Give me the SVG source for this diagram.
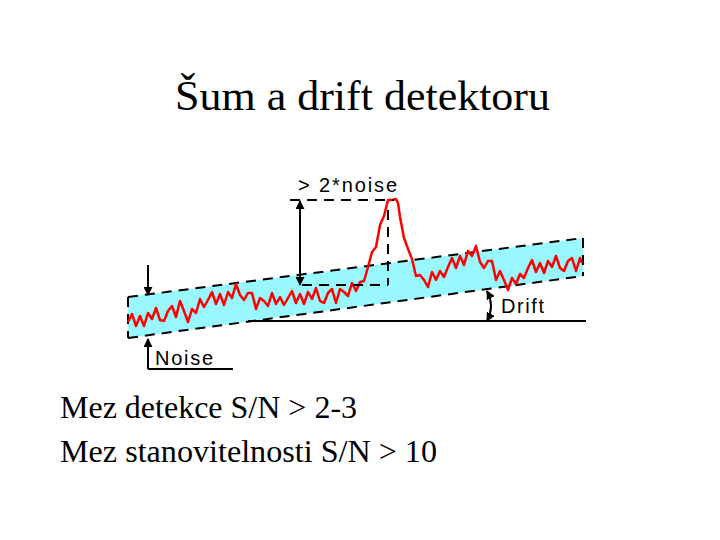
<svg xmlns="http://www.w3.org/2000/svg" width="720" height="540" viewBox="0 0 720 540">
<defs>
<style>
.title{font-family:"Liberation Serif","Times New Roman",serif;fill:#000}
.lab{font-family:"Liberation Sans",Arial,sans-serif;font-size:20px;fill:#000}
.dash{stroke:#000;stroke-width:2;stroke-dasharray:10,7;fill:none}
.solid{stroke:#000;stroke-width:2;fill:none}
</style>
<marker id="ah" viewBox="0 0 10 10" refX="9" refY="5" markerWidth="9" markerHeight="9" orient="auto-start-reverse" markerUnits="userSpaceOnUse">
<path d="M0,0 L10,5 L0,10 Z" fill="#000"/>
</marker>
</defs>
<rect width="720" height="540" fill="#fff"/>
<text class="title" x="175" y="110" font-size="43" textLength="375" lengthAdjust="spacingAndGlyphs">Šum a drift detektoru</text>
<g id="band">
<polygon points="128,297 583,238 583,276 128,338" fill="#99f8ff"/>
<line class="dash" x1="128" y1="297" x2="583" y2="238"/>
<line class="dash" x1="128" y1="338" x2="583" y2="276"/>
<line class="dash" x1="128" y1="297" x2="128" y2="338"/>
<line class="dash" x1="583" y1="238" x2="583" y2="276"/>
</g>
<g id="signal">
<polyline fill="none" stroke="#ff0000" stroke-width="2.5" stroke-linejoin="round" points="128,322 132,314 136,326 140,316 144,326 148,313 152,319 156,308 160,320 164,321 168,311 172,306 176,317 180,301 184,311 188,322 192,309 196,313 200,299 204,307 208,300 212,292 216,304 220,294 224,305 228,292 232,298 236,284 240,295 244,300 248,293 252,293 256,309 260,298 264,301 268,306 272,293 276,304 280,297 284,305 288,298 292,291 296,303 300,294 304,304 308,292 312,299 316,288 320,301 324,303 328,293 332,289 336,303 340,289 344,292 348,296 352,283 356,291 360,282 364,281 368,267 372,252 376,247 380,225 384,216 388,200 392,200 396,199 398,203 400,217 404,238 408,249 412,259 416,276 420,275 424,280 428,287 432,272 436,280 440,271 444,277 448,267 452,258 456,268 460,256 464,265 468,251 472,256 476,246 480,262 484,268 488,261 492,261 496,280 500,271 504,280 508,290 512,278 516,284 520,274 524,278 528,268 532,260 536,272 540,263 544,273 548,261 552,267 556,256 560,268 564,271 568,261 572,258 576,271 580,258 582,263"/>
</g>
<g id="connectors">
<line class="solid" x1="248" y1="321" x2="586" y2="321"/>
<line class="solid" x1="148" y1="265" x2="148" y2="295" stroke-width="2.5" marker-end="url(#ah)"/>
<line class="solid" x1="148" y1="369" x2="148" y2="339" stroke-width="2.5" marker-end="url(#ah)"/>
<line class="solid" x1="148" y1="369" x2="233" y2="369" stroke-width="2.5"/>
<line class="dash" x1="290" y1="200" x2="394" y2="200"/>
<line class="solid" x1="300" y1="201" x2="300" y2="285" stroke-width="3" marker-start="url(#ah)" marker-end="url(#ah)"/>
<line class="dash" x1="302" y1="285" x2="388" y2="285" stroke-width="3"/>
<line class="dash" x1="388" y1="210" x2="388" y2="285" stroke-width="3"/>
<path class="solid" d="M487,291 Q495,306 487,321" stroke-width="2" marker-start="url(#ah)" marker-end="url(#ah)"/>
</g>
<g id="labels">
<text class="lab" x="298" y="192" textLength="99" lengthAdjust="spacing">&gt; 2*noise</text>
<text class="lab" x="155" y="365" textLength="58" lengthAdjust="spacing">Noise</text>
<text class="lab" x="501" y="313" textLength="43" lengthAdjust="spacing">Drift</text>
</g>
<text class="title" x="60" y="418" font-size="32">Mez detekce S/N &gt; 2-3</text>
<text class="title" x="60" y="462" font-size="32" textLength="377" lengthAdjust="spacingAndGlyphs">Mez stanovitelnosti S/N &gt; 10</text>
</svg>
